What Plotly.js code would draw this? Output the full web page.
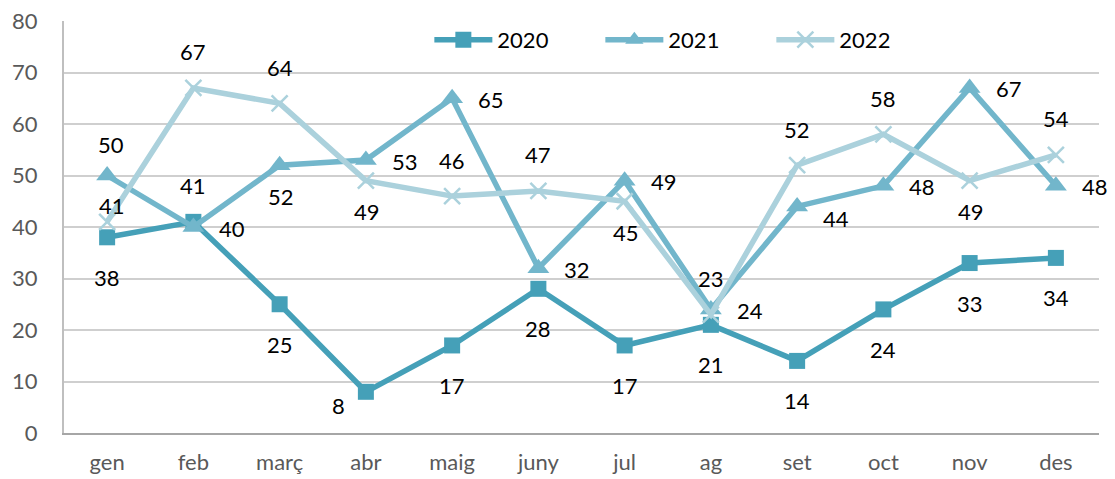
<!DOCTYPE html>
<html>
<head>
<meta charset="utf-8">
<script src="https://cdn.plot.ly/plotly-3.0.1.min.js"></script>
<style>html,body{margin:0;padding:0;background:#fff;}#chart{width:1115px;height:479px;}</style>
</head>
<body>
<div id="chart"></div>
<script>
const months = ["gen","feb","març","abr","maig","juny","jul","ag","set","oct","nov","des"];
const v2020 = [38,41,25,8,17,28,17,21,14,24,33,34];
const v2021 = [50,40,52,53,65,32,49,24,44,48,67,48];
const v2022 = [41,67,64,49,46,47,45,23,52,58,49,54];
// label placement codes (see offsets below)
const pos2020 = ["b","t","b","bl","b","b","b","b","b","b","b","b"];
const pos2021 = ["t2","r","b2","r","r","r","r","r","br","r","r","r"];
const pos2022 = ["ts","t","t","b2","t","t","b2","t","t","t","b2","t"];

const offsets = {t:[0,-36], t2:[4,-31], ts:[5,-16], b:[0,40], b2:[1,31], r:[39,1], br:[39,12], bl:[-27,14]};
const font = "Lato, 'Open Sans', sans-serif";

function tr(name, y, color, symbol, size, lineW){
  return {
    type:"scatter", mode:"lines+markers", name:name, x:months, y:y,
    line:{color:color, width:5.5},
    marker:{symbol:symbol, size:size, color:color, line:{color:color, width:lineW}},
    cliponaxis:false
  };
}
const data = [
  tr("2020", v2020, "#45a0b8", "square", 16, 0),
  tr("2021", v2021, "#72b6cb", "triangle-up", 19, 0),
  tr("2022", v2022, "#abd1dc", "x-thin", 16, 2.5)
];
const annotations = [];
[[v2020,pos2020],[v2021,pos2021],[v2022,pos2022]].forEach(([vals,pos])=>{
  vals.forEach((v,i)=>{
    const o = offsets[pos[i]];
    annotations.push({x:months[i], y:v, xref:"x", yref:"y", text:String(v), showarrow:false,
      xshift:o[0], yshift:-o[1], font:{family:font, size:22, color:"#000"}});
  });
});
const layout = {
  width:1115, height:479,
  margin:{l:64, r:16, t:21, b:46},
  paper_bgcolor:"#fff", plot_bgcolor:"#fff",
  showlegend:true,
  annotations:annotations,
  legend:{orientation:"h", x:0.353, y:1.005, xanchor:"left", yanchor:"top",
    font:{family:font, size:22, color:"#000"}, itemwidth:58, entrywidth:98,
    bgcolor:"rgba(255,255,255,0)"},
  xaxis:{type:"category", range:[-0.5,11.5], showgrid:false, showline:true,
    linecolor:"#a6a6a6", linewidth:2, ticks:"outside", ticklen:9, tickcolor:"rgba(0,0,0,0)",
    tickfont:{family:font, size:22, color:"#595959"}, zeroline:false, fixedrange:true},
  yaxis:{range:[0,80], dtick:10, showgrid:true, gridcolor:"#cfcfcf", gridwidth:2,
    showline:true, linecolor:"#bfbfbf", linewidth:2, zeroline:false,
    ticks:"outside", ticklen:20, tickcolor:"rgba(0,0,0,0)",
    tickfont:{family:font, size:22, color:"#595959"}, fixedrange:true}
};
Plotly.newPlot("chart", data, layout, {displayModeBar:false, staticPlot:true});
</script>
</body>
</html>
